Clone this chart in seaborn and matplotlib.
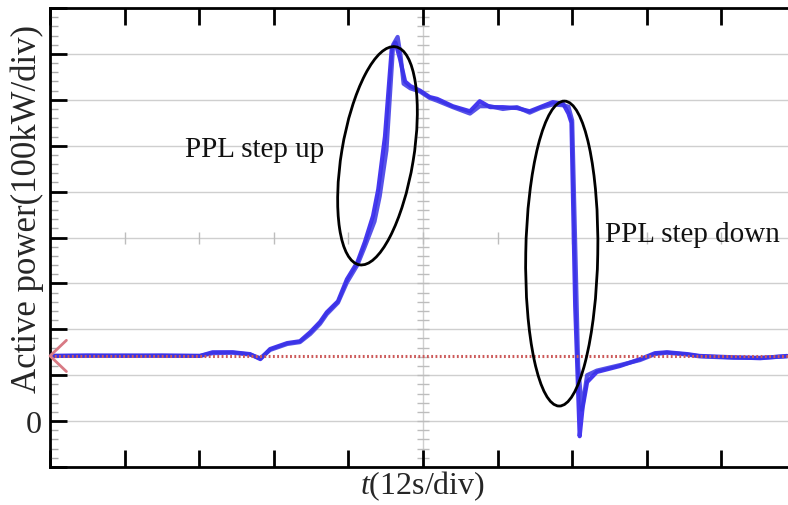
import numpy as np
import pandas as pd
import matplotlib
matplotlib.use("Agg")
import matplotlib.pyplot as plt
import matplotlib.transforms as mtransforms
from matplotlib.patches import Ellipse
import seaborn as sns

# time in divisions (12 s/div), power in divisions (100 kW/div)
t_a = [0.0, 0.5, 1.0, 1.5, 2.01, 2.18, 2.45, 2.68, 2.82, 2.95, 3.18, 3.35, 3.49,
       3.62, 3.71, 3.86, 3.98, 4.12, 4.22, 4.33, 4.40, 4.49, 4.58, 4.63, 4.69,
       4.76, 4.83, 4.96, 5.09, 5.19, 5.40, 5.63, 5.76, 5.90, 6.07, 6.26, 6.43,
       6.57, 6.74, 6.88, 6.95, 6.99, 7.04, 7.10, 7.14, 7.20, 7.33, 7.64, 7.91,
       8.11, 8.27, 8.54, 8.71, 9.16, 9.52, 9.88]
p_a = [1.42, 1.43, 1.42, 1.43, 1.42, 1.50, 1.50, 1.46, 1.35, 1.57, 1.70, 1.74, 1.94,
       2.16, 2.37, 2.61, 3.09, 3.46, 3.90, 4.47, 5.05, 6.20, 8.10, 8.25, 7.90,
       7.40, 7.30, 7.20, 7.06, 7.02, 6.86, 6.75, 6.97, 6.84, 6.84, 6.82, 6.75,
       6.84, 6.95, 6.91, 6.70, 6.50, 2.50, -0.33, 0.30, 0.85, 1.07, 1.20, 1.35,
       1.48, 1.50, 1.46, 1.42, 1.39, 1.37, 1.42]

t_b = [0.0, 0.5, 1.0, 1.5, 2.01, 2.18, 2.45, 2.68, 2.82, 2.95, 3.18, 3.35, 3.49,
       3.62, 3.71, 3.86, 3.98, 4.12, 4.22, 4.35, 4.42, 4.51, 4.60, 4.66, 4.70,
       4.74, 4.83, 4.96, 5.09, 5.19, 5.40, 5.63, 5.76, 5.90, 6.07, 6.26, 6.43,
       6.57, 6.74, 6.88, 6.95, 7.00, 7.08, 7.13, 7.20, 7.33, 7.64, 7.91,
       8.11, 8.27, 8.54, 8.71, 9.16, 9.52, 9.88]
p_b = [1.42, 1.42, 1.43, 1.42, 1.42, 1.48, 1.49, 1.45, 1.37, 1.55, 1.68, 1.72, 1.90,
       2.12, 2.33, 2.58, 3.02, 3.40, 3.80, 4.35, 4.90, 5.90, 8.20, 8.37, 7.95,
       7.35, 7.25, 7.18, 7.04, 6.98, 6.84, 6.70, 6.86, 6.86, 6.80, 6.84, 6.72,
       6.82, 6.90, 6.88, 6.85, 6.55, 1.20, 0.25, 1.00, 1.10, 1.22, 1.33,
       1.46, 1.49, 1.45, 1.41, 1.38, 1.38, 1.41]

reference_level = 1.42

# annotation ellipses: centre (div), width/height (px), angle (deg)
ell_x = [4.39, 6.86]
ell_y = [5.78, 3.65]
ell_w = [72, 72]
ell_h = [221, 305]
ell_ang = [-9.4, -1.0]

note_text = ["PPL step up", "PPL step down"]
note_x = [1.81, 7.44]
note_y = [5.93, 4.07]

sns.set_theme(style="white")
plt.rcParams["font.family"] = ["Liberation Serif", "DejaVu Serif"]
plt.rcParams["mathtext.fontset"] = "custom"
plt.rcParams["mathtext.rm"] = "Liberation Serif"
plt.rcParams["mathtext.it"] = "Liberation Serif:italic"

fig = plt.figure(figsize=(7.88, 5.06), dpi=100)
ax = fig.add_axes([50 / 788, 38 / 506, 746 / 788, 459 / 506])
ax.set_xlim(0, 10)
ax.set_ylim(-1, 9)

# grid: horizontal lines every division, centre crosshair
for yv in range(0, 9):
    ax.axhline(yv, color="#cfcfcf", lw=1, zorder=0)
ax.axvline(5, color="#cfcfcf", lw=1, zorder=0)
ax.plot(np.full(50, 5.0), np.arange(-1, 9, 0.2), ls="none", marker="_",
        ms=8, mew=1, color="#bdbdbd", zorder=0)
ax.plot(np.arange(1, 10), np.full(9, 4.0), ls="none", marker="|",
        ms=9, mew=1, color="#bdbdbd", zorder=0)

df_a = pd.DataFrame({"t": t_a, "p": p_a})
df_b = pd.DataFrame({"t": t_b, "p": p_b})
sns.lineplot(data=df_a, x="t", y="p", ax=ax, color="#4638f0", lw=3,
             estimator=None, sort=False, zorder=3)
sns.lineplot(data=df_b, x="t", y="p", ax=ax, color="#3a34e6", lw=3,
             estimator=None, sort=False, zorder=3, alpha=0.85)

ax.axhline(reference_level, color="#cc5a5a", lw=2.2, ls=(0, (0.6, 0.8)), zorder=4)
ax.plot([0.22, 0.0, 0.22], [reference_level + 0.34, reference_level, reference_level - 0.34],
        color="#d87a84", lw=2, clip_on=False, zorder=5)

for cx, cy, w, h, ang in zip(ell_x, ell_y, ell_w, ell_h, ell_ang):
    tr = (mtransforms.Affine2D().scale(fig.dpi / 72)
          + mtransforms.ScaledTranslation(cx, cy, ax.transData))
    ax.add_patch(Ellipse((0, 0), w * 0.72, h * 0.72, angle=ang, transform=tr,
                         fill=False, ec="black", lw=2, zorder=6))

for txt, tx, ty in zip(note_text, note_x, note_y):
    ax.text(tx, ty, txt, fontsize=21, va="center", ha="left", color="#111111")

ax.set_xticks(range(0, 11))
ax.set_xticklabels([])
ax.set_yticks(range(-1, 10))
ax.set_yticklabels(["0" if v == 0 else "" for v in range(-1, 10)])
ax.set_yticks(np.arange(-1, 9.01, 0.2), minor=True)
ax.tick_params(axis="x", which="major", direction="in", length=12, width=2,
               top=True, bottom=True, color="black")
ax.tick_params(axis="y", which="major", direction="in", length=12, width=2,
               left=True, right=False, color="black", labelsize=23, pad=6)
ax.tick_params(axis="y", which="minor", direction="in", length=6, width=1,
               left=True, right=False, color="#aaaaaa")
for s in ax.spines.values():
    s.set_color("black")
    s.set_linewidth(2)

ax.set_xlabel(r"$t$(12s/div)", fontsize=23)
ax.xaxis.set_label_coords(0.499, -0.003)
ax.xaxis.label.set_va("top")
ax.set_ylabel("Active power(100kW/div)", fontsize=25)
ax.yaxis.set_label_coords(-0.008, 0.565)

fig.savefig("out.png", dpi=100)
